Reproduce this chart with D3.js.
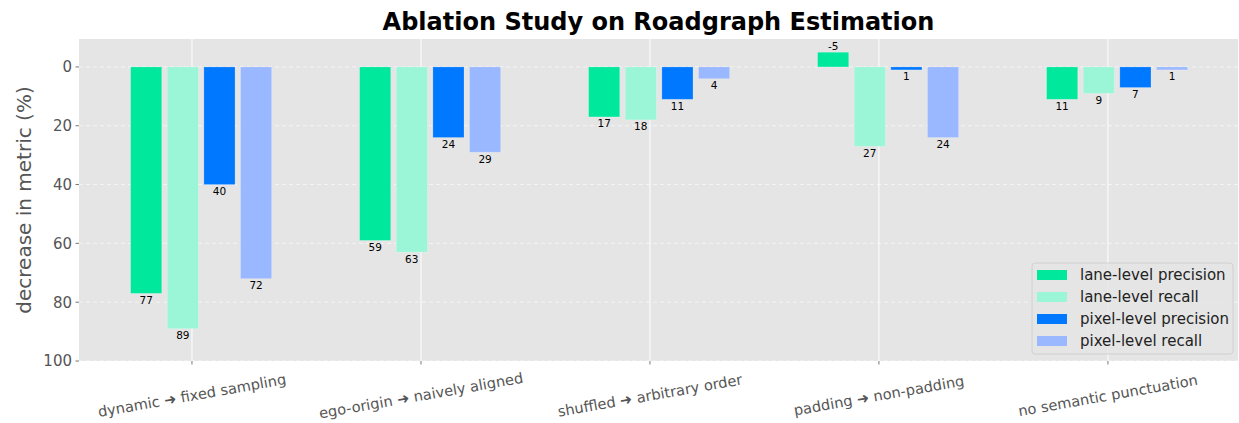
<!DOCTYPE html>
<html>
<head>
<meta charset="utf-8">
<script src="https://cdn.jsdelivr.net/npm/d3@7"></script>
<style>
  body { margin: 0; background: #fff; }
  svg text { font-family: "DejaVu Sans", sans-serif; }
</style>
</head>
<body>
<div id="chart"></div>
<script>
// ablation settings (x categories)
var categories = [
  'dynamic \u279C fixed sampling',
  'ego-origin \u279C naively aligned',
  'shuffled \u279C arbitrary order',
  'padding \u279C non-padding',
  'no semantic punctuation'
];

// series names + colours
var seriesNames = ['lane-level precision', 'lane-level recall', 'pixel-level precision', 'pixel-level recall'];
var seriesColors = ['#00E89C', '#9BF6D7', '#0078FF', '#99B8FF'];

// decrease in metric (%) per series
var lanePrecision = [77, 59, 17, -5, 11];
var laneRecall = [89, 63, 18, 27, 9];
var pixelPrecision = [40, 24, 11, 1, 7];
var pixelRecall = [72, 29, 4, 24, 1];

var yTicks = [0, 20, 40, 60, 80, 100];

var series = [lanePrecision, laneRecall, pixelPrecision, pixelRecall];

var width = 1239, height = 423;
var margin = {left: 79, right: 1, top: 39, bottom: 62};

var svg = d3.select('#chart').append('svg')
  .attr('width', width)
  .attr('height', height);

// x in category units (0..4), y inverted: decrease grows downward
var x = d3.scaleLinear()
  .domain([-0.4934, 4.568])
  .range([margin.left, width - margin.right]);

var y = d3.scaleLinear()
  .domain([-9.5, 100])
  .range([margin.top, height - margin.bottom]);

var barStep = 0.16, barWidth = 0.136;

// plot background
svg.append('rect')
  .attr('x', x.range()[0])
  .attr('y', y.range()[0])
  .attr('width', x.range()[1] - x.range()[0])
  .attr('height', y.range()[1] - y.range()[0])
  .attr('fill', '#E5E5E5');

// grid: dashed horizontal, solid vertical
svg.append('g').selectAll('line')
  .data(yTicks)
  .join('line')
  .attr('x1', x.range()[0])
  .attr('x2', x.range()[1])
  .attr('y1', function(d) { return y(d); })
  .attr('y2', function(d) { return y(d); })
  .attr('stroke', 'rgba(255,255,255,0.75)')
  .attr('stroke-width', 0.8)
  .attr('stroke-dasharray', '4,3');

svg.append('g').selectAll('line')
  .data(categories)
  .join('line')
  .attr('x1', function(d, i) { return x(i); })
  .attr('x2', function(d, i) { return x(i); })
  .attr('y1', y.range()[0])
  .attr('y2', y.range()[1])
  .attr('stroke', '#fff')
  .attr('stroke-width', 1);

// bars
series.forEach(function(vals, j) {
  var g = svg.append('g');
  var offset = (j - 1.25) * barStep;

  g.selectAll('rect')
    .data(vals)
    .join('rect')
    .attr('x', function(d, i) { return x(i + offset - barWidth / 2); })
    .attr('width', function() { return x(barWidth) - x(0); })
    .attr('y', function(d) { return Math.min(y(0), y(d)); })
    .attr('height', function(d) { return Math.abs(y(d) - y(0)); })
    .attr('fill', seriesColors[j])
    .attr('stroke', 'rgba(255,255,255,0.25)')
    .attr('stroke-width', 0.8);

  // value labels at the bar ends
  g.selectAll('text')
    .data(vals)
    .join('text')
    .attr('x', function(d, i) { return x(i + offset); })
    .attr('y', function(d) { return d < 0 ? y(d) - 2 : y(d) + 10.5; })
    .attr('text-anchor', 'middle')
    .style('font-size', '10.5px')
    .attr('fill', '#000')
    .text(function(d) { return d; });
});

// y axis ticks + labels
var yAxis = svg.append('g');
yTicks.forEach(function(t) {
  yAxis.append('line')
    .attr('x1', margin.left - 3.5).attr('x2', margin.left)
    .attr('y1', y(t)).attr('y2', y(t))
    .attr('stroke', '#555').attr('stroke-width', 0.8);
  yAxis.append('text')
    .attr('x', margin.left - 7)
    .attr('y', y(t))
    .attr('dy', '0.36em')
    .attr('text-anchor', 'end')
    .style('font-size', '15px')
    .attr('fill', '#555')
    .text(t);
});

// x axis ticks + rotated labels
var xAxis = svg.append('g');
categories.forEach(function(c, i) {
  var bottom = y.range()[1];
  xAxis.append('line')
    .attr('x1', x(i)).attr('x2', x(i))
    .attr('y1', bottom).attr('y2', bottom + 3.5)
    .attr('stroke', '#555').attr('stroke-width', 0.8);
  xAxis.append('text')
    .attr('transform', 'translate(' + x(i) + ',' + (bottom + 34.5) + ') rotate(-10)')
    .attr('text-anchor', 'middle')
    .attr('dy', '0.35em')
    .style('font-size', '14.6px')
    .attr('fill', '#555')
    .text(c);
});

// axis label
svg.append('text')
  .attr('transform', 'translate(24,' + ((y.range()[0] + y.range()[1]) / 2) + ') rotate(-90)')
  .attr('text-anchor', 'middle')
  .attr('dy', '0.35em')
  .style('font-size', '20px')
  .attr('fill', '#555')
  .text('decrease in metric (%)');

// title
svg.append('text')
  .attr('x', (x.range()[0] + x.range()[1]) / 2)
  .attr('y', 30)
  .attr('text-anchor', 'middle')
  .style('font-size', '24px')
  .style('font-weight', 'bold')
  .attr('fill', '#000')
  .text('Ablation Study on Roadgraph Estimation');

// legend
var legend = svg.append('g').attr('transform', 'translate(1032,263)');
legend.append('rect')
  .attr('width', 201)
  .attr('height', 91)
  .attr('rx', 3)
  .attr('fill', '#E5E5E5')
  .attr('fill-opacity', 0.8)
  .attr('stroke', '#CCCCCC')
  .attr('stroke-width', 0.8);

seriesNames.forEach(function(name, j) {
  var row = legend.append('g').attr('transform', 'translate(0,' + (12 + j * 22) + ')');
  row.append('rect')
    .attr('x', 5).attr('y', -5)
    .attr('width', 30).attr('height', 10)
    .attr('fill', seriesColors[j]);
  row.append('text')
    .attr('x', 48)
    .attr('dy', '0.35em')
    .style('font-size', '15px')
    .attr('fill', '#222')
    .text(name);
});
</script>
</body>
</html>
